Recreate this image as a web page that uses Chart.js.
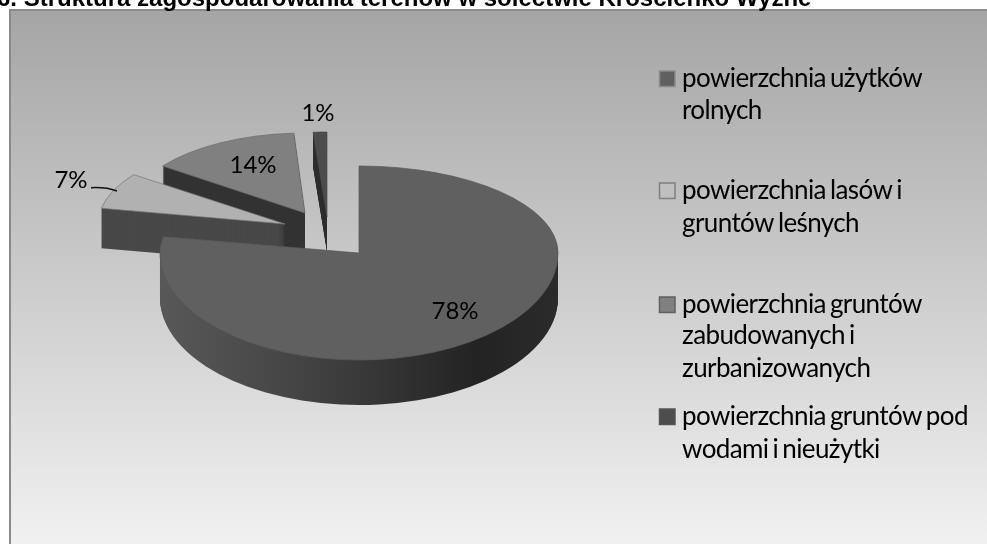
<!DOCTYPE html>
<html><head><meta charset="utf-8">
<style>html,body{margin:0;padding:0;background:#fff}#w{width:987px;height:544px;position:relative}canvas{display:block}</style>
<script src="https://cdn.jsdelivr.net/npm/chart.js@4/dist/chart.umd.js"></script>
</head><body><div id="w"><canvas id="c" width="987" height="544"></canvas></div>
<script>
const categories = ['powierzchnia użytków rolnych','powierzchnia lasów i gruntów leśnych','powierzchnia gruntów zabudowanych i zurbanizowanych','powierzchnia gruntów pod wodami i nieużytki'];
const values = [78,7,14,1];
const titleText = '6. Struktura zagospodarowania terenów w sołectwie Krościenko Wyżne';
const legendLines = [['powierzchnia użytków','rolnych'],['powierzchnia lasów i','gruntów leśnych'],['powierzchnia gruntów','zabudowanych i','zurbanizowanych'],['powierzchnia gruntów pod','wodami i nieużytki']];

// layout of the exploded 3D pie (per slice)
const geom = [
 {x:359,y:253,rx:199,ryT:87,ryB:107,d:45,top:'#606060',wall:null,line:'#5a5a5a'},
 {x:285,y:224,rx:187,ryT:84,ryB:84,d:40,top:'#b1b1b1',wall:'#484848',line:'#777777'},
 {x:305,y:213,rx:176,ryT:80,ryB:80,d:55,top:'#808080',wall:'#333333',line:'#6a6a6a'},
 {x:327,y:217,rx:222,ryT:85,ryB:85,d:35,top:'#4c4c4c',wall:'#2e2e2e',line:'#4c4c4c'}
];
const drawOrder = [3,2,1,0];
const labelPos = [[455,311],[71,180],[253,165],[318,113]];
const legendRows = [{y:71,base:[87,119]},{y:183,base:[199,232]},{y:297,base:[313,344,377]},{y:409,base:[425,458]}];
const legendSwatch = [['#606060','#8a8a8a'],['#bfbfbf','#7f7f7f'],['#808080','#5f5f5f'],['#4d4d4d','#555555']];

function paintArc(ctx, el, g, ry, fill, stroke, dy, clipTop){
  const opts = Object.assign({}, el.options, {backgroundColor:fill, borderColor:stroke||fill, borderWidth:stroke?1:0, borderAlign:'center', offset:0, spacing:0});
  const a = Object.create(el);
  a.options = opts; a.x = 0; a.y = 0; a.innerRadius = 0; a.outerRadius = g.rx;
  ctx.save();
  ctx.beginPath();
  if (clipTop) ctx.rect(0,0,987,g.y+dy+0.5); else ctx.rect(0,g.y+dy,987,544);
  ctx.clip();
  ctx.translate(g.x, g.y+dy);
  ctx.scale(1, ry/g.rx);
  a.draw(ctx);
  ctx.restore();
}
function paintSlice(ctx, el, g, fill, stroke, dy){
  paintArc(ctx, el, g, g.ryT, fill, stroke, dy, true);
  paintArc(ctx, el, g, g.ryB, fill, stroke, dy, false);
}
const pie3d = {
  id:'pie3d',
  beforeDraw(chart){
    const ctx = chart.ctx;
    ctx.save();
    ctx.fillStyle='#ffffff'; ctx.fillRect(0,0,987,544);
    const bg = ctx.createLinearGradient(0,10,0,544);
    bg.addColorStop(0,'#a5a5a5'); bg.addColorStop(1,'#f1f1f1');
    ctx.fillStyle=bg; ctx.fillRect(10,10,977,534);
    ctx.fillStyle='#8a8a8a'; ctx.fillRect(9,9,978,2); ctx.fillRect(9,9,2,535);
    ctx.fillStyle='#000'; ctx.font='bold 24px "Liberation Sans"'; ctx.textAlign='left'; ctx.textBaseline='alphabetic';
    ctx.fillText(titleText,-3,6);
    ctx.restore();
  },
  beforeDatasetsDraw(chart){
    const ctx = chart.ctx, meta = chart.getDatasetMeta(0);
    drawOrder.forEach(i=>{
      const el = meta.data[i], g = geom[i];
      let wall = g.wall;
      if(!wall){
        wall = ctx.createLinearGradient(-g.rx,0,g.rx,0);
        wall.addColorStop(0,'#585858'); wall.addColorStop(0.35,'#444444'); wall.addColorStop(0.8,'#232323'); wall.addColorStop(1,'#2b2b2b');
      }
      for(let d=g.d;d>=1;d--) paintSlice(ctx, el, g, wall, null, d);
      paintSlice(ctx, el, g, g.top, g.line, 0);
    });
    return false;
  },
  afterDraw(chart){
    const ctx = chart.ctx;
    ctx.save();
    ctx.fillStyle='#000'; ctx.font='24px Lato'; ctx.textAlign='center'; ctx.textBaseline='middle';
    values.forEach((v,i)=>ctx.fillText(v+'%',labelPos[i][0],labelPos[i][1]));
    ctx.strokeStyle='#111'; ctx.lineWidth=1.5; ctx.beginPath(); ctx.moveTo(91,187.7); ctx.quadraticCurveTo(106,187,117,191); ctx.stroke();
    ctx.font='26px Lato'; ctx.letterSpacing='-0.6px'; ctx.wordSpacing='-2px'; ctx.textAlign='left'; ctx.textBaseline='alphabetic';
    legendRows.forEach((r,i)=>{
      ctx.fillStyle=legendSwatch[i][0]; ctx.strokeStyle=legendSwatch[i][1]; ctx.lineWidth=1.5;
      ctx.fillRect(659.5,r.y,15.5,15.5); ctx.strokeRect(659.5,r.y,15.5,15.5);
      ctx.fillStyle='#000';
      legendLines[i].forEach((t,j)=>ctx.fillText(t,682,r.base[j]));
    });
    ctx.restore();
  }
};
new Chart(document.getElementById('c'),{
  type:'pie',
  data:{labels:categories,datasets:[{data:values,backgroundColor:geom.map(g=>g.top),borderWidth:0}]},
  options:{responsive:false,animation:false,rotation:0,plugins:{legend:{display:false},tooltip:{enabled:false},title:{display:false}}},
  plugins:[pie3d]
});
</script></body></html>
